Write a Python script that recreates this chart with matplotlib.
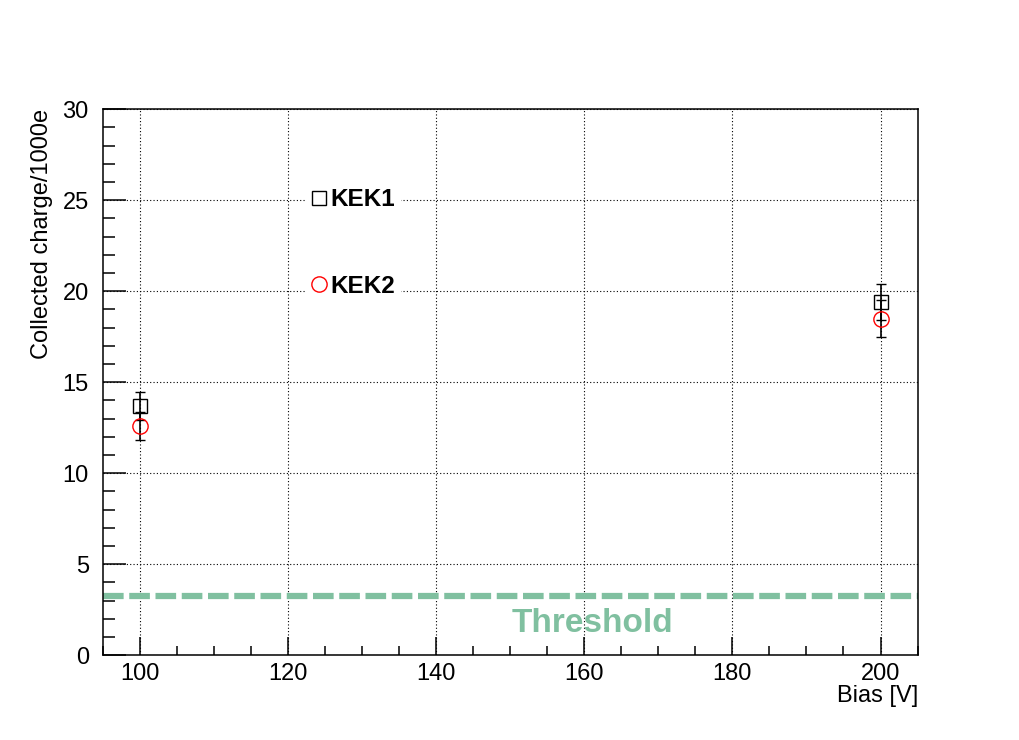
import matplotlib
matplotlib.use("Agg")
import matplotlib.pyplot as plt
from matplotlib.ticker import MultipleLocator
from matplotlib.lines import Line2D

plt.rcParams['font.family'] = ['Liberation Sans', 'DejaVu Sans']

# Data
bias = [100, 200]
kek1_charge = [13.7, 19.4]
kek1_err = [0.75, 1.0]
kek2_charge = [12.6, 18.5]
kek2_err = [0.75, 1.0]
threshold = 3.25
series_labels = ["KEK1", "KEK2"]
threshold_label = "Threshold"

thr_color = "#80c0a0"

fig = plt.figure(figsize=(10.2, 7.4), dpi=100)
ax = fig.add_axes([0.1007, 0.1145, 0.7996, 0.7378])

ax.set_xlim(95, 205.1)
ax.set_ylim(0, 30)

# grid
ax.grid(True, which='major', color='black', linestyle=(0, (1, 2)), linewidth=0.8)
ax.set_axisbelow(True)

# threshold line
ax.axhline(threshold, color=thr_color, linewidth=4.5, linestyle=(0, (3.3, 0.9)), zorder=2)
ax.text(161.1, 1.75, threshold_label, color=thr_color, fontsize=24, fontweight='bold',
        ha='center', va='center', zorder=3)

# data
ax.errorbar(bias, kek1_charge, yerr=kek1_err, fmt='s', color='black', mfc='none',
            mec='black', ms=10.5, mew=1.0, ecolor='black', elinewidth=1.2,
            capsize=3.5, capthick=1.6, zorder=4)
ax.errorbar(bias, kek2_charge, yerr=kek2_err, fmt='o', color='red', mfc='none',
            mec='red', ms=11, mew=1.0, ecolor='black', elinewidth=1.2,
            capsize=3.5, capthick=1.6, zorder=5)

# ticks
ax.xaxis.set_major_locator(MultipleLocator(20))
ax.xaxis.set_minor_locator(MultipleLocator(5))
ax.yaxis.set_major_locator(MultipleLocator(5))
ax.yaxis.set_minor_locator(MultipleLocator(1))
ax.tick_params(axis='x', which='major', direction='in', length=13, width=1.1,
               labelsize=17, pad=5.5, top=False)
ax.tick_params(axis='x', which='minor', direction='in', length=6.5, width=1.1, top=False)
ax.tick_params(axis='y', which='major', direction='in', length=16.5, width=1.1,
               labelsize=17, pad=10, right=False)
ax.tick_params(axis='y', which='minor', direction='in', length=8.6, width=1.1, right=False)
for s in ax.spines.values():
    s.set_linewidth(1.1)

# axis labels
fig.text(918.3 / 1020, 1 - 702 / 740, "Bias [V]", ha='right', va='baseline', fontsize=17)
fig.text(42.5 / 1020, 1 - 109.3 / 740, "Collected charge/1000e", rotation=90,
         ha='center', va='top', fontsize=17)

# legend
handles = [
    Line2D([], [], marker='s', linestyle='none', mfc='none', mec='black', ms=10.5, mew=1.0),
    Line2D([], [], marker='o', linestyle='none', mfc='none', mec='red', ms=11, mew=1.0),
]
leg = ax.legend(handles, series_labels, loc='upper left',
                bbox_to_anchor=((306 - 102.7) / 815.6, (655.3 - 182) / 546),
                borderaxespad=0, frameon=True, fancybox=False, framealpha=1,
                facecolor='white', edgecolor='none',
                prop={'size': 17.5, 'weight': 'bold'},
                handlelength=0.6, handletextpad=0.15, labelspacing=2.62,
                borderpad=0.25)
leg.set_zorder(6)

fig.savefig("out.png", dpi=100, facecolor='white')
